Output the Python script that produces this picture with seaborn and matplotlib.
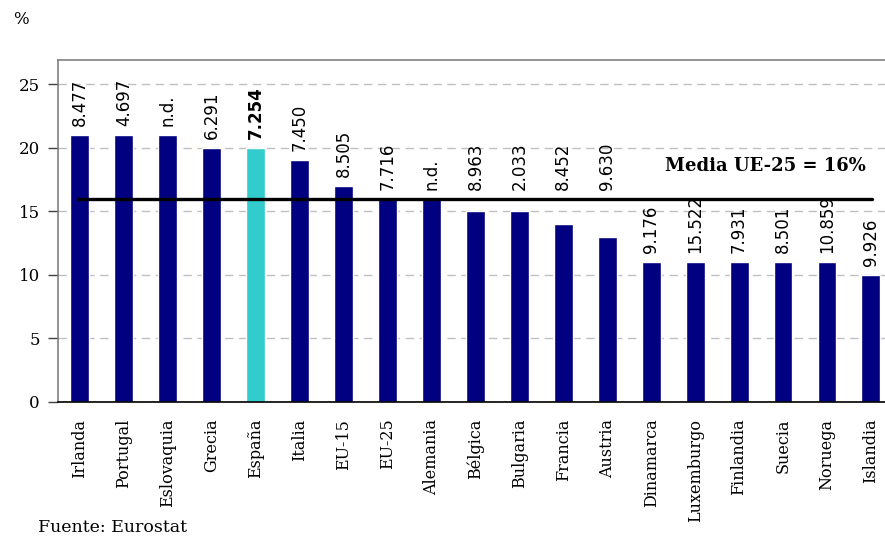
import numpy as np
import pandas as pd
import seaborn as sns
import matplotlib.pyplot as plt

# Data
paises = ['Irlanda', 'Portugal', 'Eslovaquia', 'Grecia', 'España', 'Italia',
          'EU-15', 'EU-25', 'Alemania', 'Bélgica', 'Bulgaria', 'Francia',
          'Austria', 'Dinamarca', 'Luxemburgo', 'Finlandia', 'Suecia',
          'Noruega', 'Islandia']
tasas = [21, 21, 21, 20, 20, 19, 17, 16, 16, 15, 15, 14, 13, 11, 11, 11, 11, 11, 10]
etiquetas = ['8.477', '4.697', 'n.d.', '6.291', '7.254', '7.450', '8.505',
             '7.716', 'n.d.', '8.963', '2.033', '8.452', '9.630', '9.176',
             '15.522', '7.931', '8.501', '10.859', '9.926']
destacado = 'España'
media = 16

df = pd.DataFrame({'pais': paises, 'tasa': tasas})

sns.set_style('white')
plt.rcParams['font.family'] = ['DejaVu Serif', 'DejaVu Sans']
plt.rcParams['text.color'] = 'black'
plt.rcParams['xtick.color'] = 'black'
plt.rcParams['ytick.color'] = 'black'

colores = {p: ('#33CCCC' if p == destacado else '#000080') for p in paises}

fig = plt.figure(figsize=(8.85, 5.38), dpi=100)
ax = fig.add_axes([0.0655, 0.2528, 0.9434, 0.6357])

sns.barplot(data=df, x='pais', y='tasa', hue='pais', palette=colores,
            legend=False, width=0.43, saturation=1, ax=ax)

n = len(paises)
ax.set_xlim(-0.5, n - 0.5)
ax.set_ylim(0, 26.9)

# grid
ax.set_yticks([0, 5, 10, 15, 20, 25])
ax.yaxis.grid(True, color='#c0c0c0', linestyle=(0, (6, 4)), linewidth=1)
ax.set_axisbelow(True)

# mean line and its label
ax.plot([-0.05, n - 1 + 0.03], [media, media], color='black', linewidth=2.4, zorder=4)
ax.text(n - 1.12, 18.6, f'Media UE-25 = {media}%', ha='right', va='center',
        fontsize=13, fontweight='bold', family='DejaVu Serif', zorder=5)

# value labels (bars just under the mean get their label lifted above the line)
for i, (v, lab) in enumerate(zip(tasas, etiquetas)):
    base = media if media - 3.5 < v < media + 0.5 else v
    ax.annotate(lab, (i, base), xytext=(0, 6.5), textcoords='offset points',
                rotation=90, ha='center', va='bottom', fontsize=12,
                family='DejaVu Sans',
                fontweight='bold' if paises[i] == destacado else 'normal')

# axes styling
for s in ['top', 'left']:
    ax.spines[s].set_color('#808080')
    ax.spines[s].set_linewidth(1.2)
ax.spines['right'].set_visible(False)
ax.spines['bottom'].set_color('black')
ax.spines['bottom'].set_linewidth(1.2)

ax.set_xticks(range(n))
ax.set_xticklabels(paises, rotation=90, fontsize=11.5)
ax.set_xticks(np.arange(-0.5, n, 1), minor=True)
ax.tick_params(axis='x', which='major', length=0, pad=12)
ax.tick_params(axis='x', which='minor', length=5, color='black', width=1)
ax.tick_params(axis='y', length=7, color='#404040', width=1, labelsize=12, pad=6,
               left=True)
ax.set_xlabel('')
ax.set_ylabel('')

fig.text(13 / 885, 1 - 20 / 538, '%', fontsize=12, va='center', ha='left')
fig.text(38 / 885, 1 - 527 / 538, 'Fuente: Eurostat', fontsize=12.5, va='center',
         ha='left', family='DejaVu Serif')

fig.savefig('out.png', dpi=100)
